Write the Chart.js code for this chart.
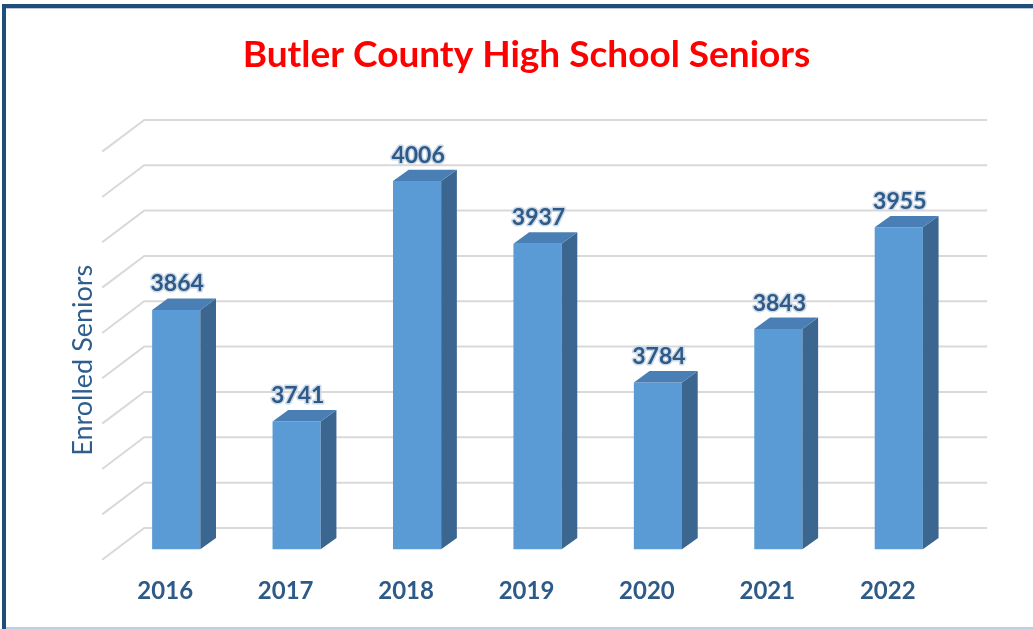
<!DOCTYPE html>
<html>
<head>
<meta charset="utf-8">
<script src="https://cdn.jsdelivr.net/npm/chart.js@4.4.1/dist/chart.umd.min.js"></script>
<style>
  html, body { margin: 0; padding: 0; background: #fff; }
  #wrap { position: relative; width: 1033px; height: 629px; overflow: hidden; }
  #c { position: absolute; left: 0; top: 0; }
  .bTop { position: absolute; left: 2px; top: 4px; width: 1031px; height: 4px; background: #1F4E79; }
  .bTop2 { position: absolute; left: 6px; top: 8px; width: 1027px; height: 1px; background: #b9c8d8; }
  .bLeft { position: absolute; left: 2px; top: 4px; width: 4px; height: 625px; background: #1F4E79; }
  .bBot { position: absolute; left: 6px; top: 627px; width: 1027px; height: 2px; background: #bcd0e4; }
</style>
</head>
<body>
<div id="wrap">
  <canvas id="c" width="1033" height="629"></canvas>
  <div class="bTop"></div><div class="bTop2"></div><div class="bLeft"></div><div class="bBot"></div>
</div>
<script>
const categories = ['2016', '2017', '2018', '2019', '2020', '2021', '2022'];
const seniors = [3864, 3741, 4006, 3937, 3784, 3843, 3955];
const axisMin = 3600;
const axisMax = 4050;
const axisStep = 50;
const chartTitle = 'Butler County High School Seniors';
const axisTitle = 'Enrolled Seniors';

const FONT = 'Lato, "Open Sans", sans-serif';
const LABEL_COLOR = '#2E5A88';
const FRONT = '#5B9BD5';
const SIDE = '#3B6690';
const TOP = '#4A7FB5';
const GRID = '#D9D9D9';

// 3D geometry (pixels)
const BACK_DX = 28.2, BACK_DY = -21.3;   // back wall relative to bar front plane
const FRONT_DX = -13.8, FRONT_DY = 10.4; // floor front edge relative to bar front plane
const BAR_DX = 15.7, BAR_DY = -11.4;     // bar depth

const threeD = {
  id: 'threeD',
  beforeDatasetsDraw(chart) {
    const ctx = chart.ctx;
    const y = chart.scales.y;
    const area = chart.chartArea;
    ctx.save();
    ctx.strokeStyle = GRID;
    ctx.lineWidth = 2;
    for (let v = axisMin; v <= axisMax + 1e-6; v += axisStep) {
      const py = y.getPixelForValue(v);
      ctx.beginPath();
      ctx.moveTo(area.left + FRONT_DX, py + FRONT_DY);
      ctx.lineTo(area.left + BACK_DX, py + BACK_DY);
      ctx.lineTo(area.right + BACK_DX, py + BACK_DY);
      ctx.stroke();
    }
    ctx.restore();
    // vertical axis title (placed at the 3D wall's visual centre)
    ctx.save();
    const wallMid = (y.getPixelForValue(axisMin) + y.getPixelForValue(axisMax)) / 2 + 15;
    ctx.translate(area.left - 33, wallMid);
    ctx.rotate(-Math.PI / 2);
    ctx.font = '27px ' + FONT;
    ctx.fillStyle = '#2F5E8E';
    ctx.textAlign = 'center';
    ctx.textBaseline = 'middle';
    ctx.fillText(axisTitle, 0, 0);
    ctx.restore();
  },
  afterDatasetsDraw(chart) {
    const ctx = chart.ctx;
    const meta = chart.getDatasetMeta(0);
    const floor = chart.scales.y.getPixelForValue(axisMin);
    ctx.save();
    meta.data.forEach((bar, i) => {
      const p = bar.getProps(['x', 'y', 'width', 'base'], true);
      const base = Math.min(p.base, floor);
      const l = p.x - p.width / 2, r = p.x + p.width / 2;
      // side face
      ctx.fillStyle = SIDE;
      ctx.beginPath();
      ctx.moveTo(r, p.y);
      ctx.lineTo(r + BAR_DX, p.y + BAR_DY);
      ctx.lineTo(r + BAR_DX, base + BAR_DY);
      ctx.lineTo(r, base);
      ctx.closePath();
      ctx.fill();
      // top face
      ctx.fillStyle = TOP;
      ctx.beginPath();
      ctx.moveTo(l, p.y);
      ctx.lineTo(l + BAR_DX, p.y + BAR_DY);
      ctx.lineTo(r + BAR_DX, p.y + BAR_DY);
      ctx.lineTo(r, p.y);
      ctx.closePath();
      ctx.fill();
      // value label
      ctx.font = 'bold 23px ' + FONT;
      ctx.textAlign = 'center';
      ctx.textBaseline = 'alphabetic';
      ctx.lineJoin = 'round';
      ctx.strokeStyle = 'rgba(200,214,230,0.95)';
      ctx.lineWidth = 3;
      const tx = p.x + 1, ty = p.y + BAR_DY - 7;
      ctx.strokeText(String(seniors[i]), tx, ty);
      ctx.fillStyle = LABEL_COLOR;
      ctx.fillText(String(seniors[i]), tx, ty);
    });
    ctx.restore();
  }
};

new Chart(document.getElementById('c'), {
  type: 'bar',
  data: {
    labels: categories,
    datasets: [{
      data: seniors,
      backgroundColor: FRONT,
      borderWidth: 0,
      barPercentage: 0.4,
      categoryPercentage: 1.0
    }]
  },
  options: {
    responsive: false,
    animation: false,
    devicePixelRatio: 1,
    layout: { padding: { left: 20, right: 0, top: 0, bottom: 0 } },
    plugins: {
      legend: { display: false },
      tooltip: { enabled: false },
      title: {
        display: true,
        text: chartTitle,
        color: '#FF0000',
        font: { family: FONT, size: 37, weight: 'bold', lineHeight: 1.2 },
        padding: { top: 33.3, bottom: 63.5 }
      }
    },
    scales: {
      x: {
        grid: { display: false, drawTicks: false },
        border: { display: false },
        ticks: {
          color: LABEL_COLOR,
          font: { family: FONT, size: 24, weight: 'bold', lineHeight: 1.2 },
          padding: 28,
          labelOffset: -11
        },
        afterFit(scale) { scale.height = 629 - 549.3; }
      },
      y: {
        min: axisMin,
        max: axisMax,
        grid: { display: false, drawTicks: false },
        border: { display: false },
        ticks: { display: false, stepSize: axisStep },
        title: { display: false, text: axisTitle },
        afterFit(scale) { scale.width = 96; }
      },
      yRight: {
        position: 'right',
        display: true,
        grid: { display: false, drawTicks: false },
        border: { display: false },
        ticks: { display: false },
        afterFit(scale) { scale.width = 74; }
      }
    }
  },
  plugins: [threeD]
});
</script>
</body>
</html>
